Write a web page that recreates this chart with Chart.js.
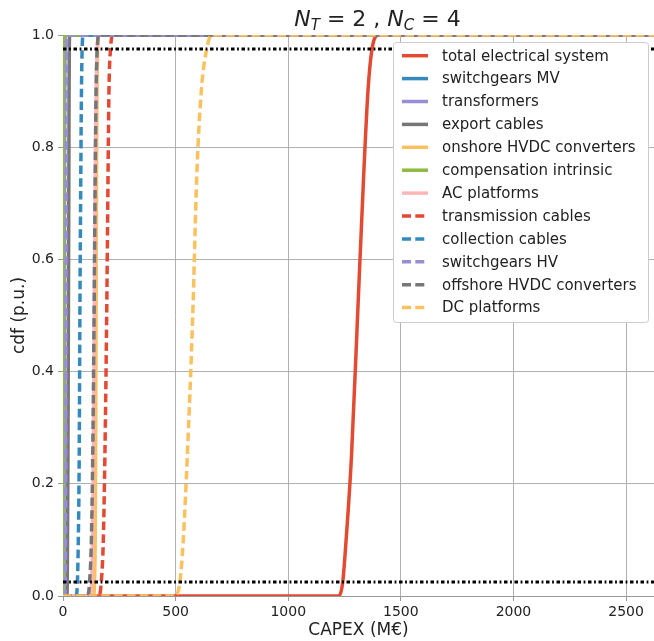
<!DOCTYPE html>
<html>
<head>
<meta charset="utf-8">
<script src="https://cdn.jsdelivr.net/npm/chart.js@4.4.0/dist/chart.umd.min.js"></script>
<style>
  html, body { margin: 0; padding: 0; background: #fff; }
  #wrap { width: 654px; height: 641px; }
</style>
</head>
<body>
<div id="wrap"><canvas id="cdfChart" width="654" height="641"></canvas></div>
<script>
// cdf level of every reading (first and last entries are the flat tails)
var cdfLevels = [0, 0, 0.025, 0.1, 0.25, 0.5, 0.75, 0.9, 0.975, 1, 1];

// CAPEX (M€) at each cdf level
var totalSystem        = [0, 1225, 1242, 1257, 1281, 1308, 1335, 1354, 1372, 1400, 2700];
var switchgearsMV      = [0, 1, 2, 2.5, 3, 3.5, 4, 4.5, 5, 6, 2700];
var transformers       = [0, 2, 3, 4, 5, 6, 7, 8, 9, 10, 2700];
var exportCables       = [0, 17, 19, 20, 22, 24, 26, 27, 28, 30, 2700];
var onshoreHVDC        = [0, 136, 140, 143, 145, 147, 149, 151, 154, 158, 2700];
var compensation       = [0, 0.3, 0.6, 0.9, 1.2, 1.5, 1.8, 2.1, 2.4, 3, 2700];
var acPlatforms        = [0, 120, 127, 131, 135, 139, 143, 147, 152, 158, 2700];
var transmissionCables = [0, 160, 170, 179, 186, 194, 200, 204, 211, 222, 2700];
var collectionCables   = [0, 58, 64, 68, 72, 75, 79, 82, 85, 90, 2700];
var switchgearsHV      = [0, 8, 10, 11, 12, 13, 14, 15, 16, 18, 2700];
var offshoreHVDC       = [0, 110, 118, 126, 132, 138, 143, 147, 152, 160, 2700];
var dcPlatforms        = [0, 498, 519, 534, 552, 576, 594, 614, 638, 660, 2700];

var seriesNames = ['total electrical system', 'switchgears MV', 'transformers', 'export cables',
    'onshore HVDC converters', 'compensation intrinsic', 'AC platforms', 'transmission cables',
    'collection cables', 'switchgears HV', 'offshore HVDC converters', 'DC platforms'];
var seriesValues = [totalSystem, switchgearsMV, transformers, exportCables, onshoreHVDC, compensation,
    acPlatforms, transmissionCables, collectionCables, switchgearsHV, offshoreHVDC, dcPlatforms];

// 2.5 % and 97.5 % levels (black dash-dot lines)
var confidenceLevels = [0.025, 0.975];

var xTicks = [0, 500, 1000, 1500, 2000, 2500];
var yTicks = [0, 0.2, 0.4, 0.6, 0.8, 1.0];
var xAxisMax = 2624;

var seriesColors = ['#E24A33', '#348ABD', '#988ED5', '#777777', '#FBC15E', '#8EBA42', '#FFB5B8',
    '#E24A33', '#348ABD', '#988ED5', '#777777', '#FBC15E'];
var seriesDashed = [false, false, false, false, false, false, false, true, true, true, true, true];

Chart.defaults.font.family = "'DejaVu Sans', sans-serif";
Chart.defaults.color = '#222';

var datasets = seriesNames.map(function (name, i) {
    return {
        label: name,
        data: seriesValues[i].map(function (x, k) { return { x: x, y: cdfLevels[k] }; }),
        borderColor: seriesColors[i],
        backgroundColor: seriesColors[i],
        borderWidth: 3.5,
        borderDash: seriesDashed[i] ? [8.5, 4.3] : [],
        pointRadius: 0,
        cubicInterpolationMode: 'monotone',
        fill: false,
        order: 100 - i   // later series on top, like the original
    };
});
confidenceLevels.forEach(function (level) {
    datasets.push({
        label: '',
        data: [{ x: 0, y: level }, { x: xAxisMax, y: level }],
        borderColor: '#000',
        borderWidth: 3,
        borderDash: [3.5, 2.6, 1.8, 2.6],
        pointRadius: 0,
        fill: false,
        order: 0
    });
});

// legend box drawn inside the plot area
var legendPlugin = {
    id: 'boxLegend',
    afterDraw: function (chart) {
        var ctx = chart.ctx;
        var box = { left: 393.5, top: 42.5, right: 648.5, bottom: 322.5 };
        ctx.save();
        ctx.beginPath();
        ctx.roundRect(box.left, box.top, box.right - box.left, box.bottom - box.top, 3);
        ctx.fillStyle = '#ffffff';
        ctx.fill();
        ctx.strokeStyle = '#cccccc';
        ctx.lineWidth = 1;
        ctx.stroke();
        ctx.font = "15px 'DejaVu Sans'";
        ctx.textBaseline = 'middle';
        seriesNames.forEach(function (name, i) {
            var y = 55.7 + i * 22.9;
            ctx.beginPath();
            ctx.setLineDash(seriesDashed[i] ? [9, 4.3] : []);
            ctx.strokeStyle = seriesColors[i];
            ctx.lineWidth = 3.5;
            ctx.moveTo(402, y);
            ctx.lineTo(428, y);
            ctx.stroke();
            ctx.setLineDash([]);
            ctx.fillStyle = '#222';
            ctx.fillText(name, 442, y + 1);
        });
        ctx.restore();
    }
};

// title  N_T = 2 , N_C = 4  with italic subscripts
var titlePlugin = {
    id: 'mathTitle',
    afterDraw: function (chart) {
        var ctx = chart.ctx;
        var parts = [
            { t: 'N', f: "italic 22px 'DejaVu Sans'", dy: 0 },
            { t: 'T', f: "italic 15px 'DejaVu Sans'", dy: 4 },
            { t: ' = 2 , ', f: "22px 'DejaVu Sans'", dy: 0 },
            { t: 'N', f: "italic 22px 'DejaVu Sans'", dy: 0 },
            { t: 'C', f: "italic 15px 'DejaVu Sans'", dy: 4 },
            { t: ' = 4', f: "22px 'DejaVu Sans'", dy: 0 }
        ];
        ctx.save();
        var total = 0;
        parts.forEach(function (p) { ctx.font = p.f; p.w = ctx.measureText(p.t).width; total += p.w; });
        var x = 377.5 - total / 2;
        ctx.fillStyle = '#222';
        ctx.textBaseline = 'alphabetic';
        parts.forEach(function (p) {
            ctx.font = p.f;
            ctx.fillText(p.t, x, 26 + p.dy);
            x += p.w;
        });
        ctx.restore();
    }
};

new Chart(document.getElementById('cdfChart'), {
    type: 'line',
    data: { datasets: datasets },
    plugins: [legendPlugin, titlePlugin],
    options: {
        responsive: false,
        animation: false,
        devicePixelRatio: 1,
        layout: { padding: { top: 35, right: 0, left: 0, bottom: 0 } },
        plugins: { legend: { display: false }, tooltip: { enabled: false } },
        scales: {
            x: {
                type: 'linear',
                min: 0,
                max: xAxisMax,
                afterBuildTicks: function (scale) {
                    scale.ticks = xTicks.map(function (v) { return { value: v }; });
                },
                ticks: {
                    font: { size: 14 },
                    color: '#222',
                    padding: 3,
                    maxRotation: 0,
                    autoSkip: false,
                    callback: function (v) { return String(v); }
                },
                grid: { color: '#b0b0b0', lineWidth: 1, tickLength: 5, tickColor: '#999' },
                border: { color: '#999' },
                title: { display: true, text: 'CAPEX (M€)', font: { size: 17 }, color: '#222', padding: { top: 0, bottom: 0 } },
                afterFit: function (s) { s.height = 45; }
            },
            y: {
                type: 'linear',
                min: 0,
                max: 1,
                afterBuildTicks: function (scale) {
                    scale.ticks = yTicks.map(function (v) { return { value: v }; });
                },
                ticks: {
                    font: { size: 14 },
                    color: '#222',
                    padding: 4,
                    callback: function (v) { return Number(v).toFixed(1); }
                },
                grid: { color: '#b0b0b0', lineWidth: 1, tickLength: 5, tickColor: '#999' },
                border: { color: '#999' },
                title: { display: true, text: 'cdf (p.u.)', font: { size: 17 }, color: '#222', padding: { top: 9, bottom: 0 } },
                afterFit: function (s) { s.width = 63; }
            }
        }
    }
});
</script>
</body>
</html>
